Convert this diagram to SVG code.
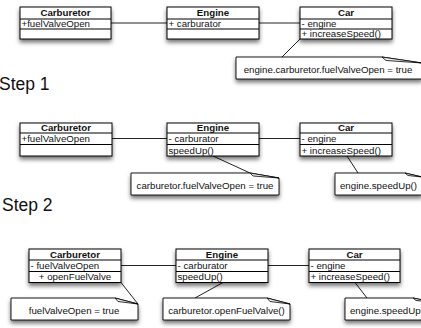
<svg xmlns="http://www.w3.org/2000/svg" width="421" height="328" viewBox="0 0 421 328">
<defs>
<filter id="sh" x="-20%" y="-30%" width="140%" height="180%">
<feDropShadow dx="0" dy="3" stdDeviation="2" flood-color="#000" flood-opacity="0.55"/>
</filter>
</defs>
<style>
.box{fill:#fff;stroke:#000;stroke-width:1}
.sep{stroke:#000;stroke-width:1}
.note{fill:#fff;stroke:#000;stroke-width:0.9}
.flap{fill:#eee;stroke:#000;stroke-width:0.8}
.t{font-family:"Liberation Sans",Arial,sans-serif;font-size:9.7px;fill:#111}
.h{font-weight:bold;text-anchor:middle}
.c{text-anchor:middle}
.step{font-family:"Liberation Sans",Arial,sans-serif;font-size:17.5px;fill:#111}
.con{stroke:#222;stroke-width:1;fill:none}
</style>
<rect width="421" height="328" fill="#fff"/>

<g id="connectors">
<line class="con" x1="111" y1="23" x2="167" y2="23"/>
<line class="con" x1="259" y1="23" x2="300" y2="23"/>
<line class="con" x1="300" y1="39" x2="282" y2="57"/>
<line class="con" x1="112" y1="138.5" x2="167" y2="138.5"/>
<line class="con" x1="259" y1="138.5" x2="300" y2="138.5"/>
<line class="con" x1="213" y1="156" x2="250" y2="173"/>
<line class="con" x1="347" y1="156" x2="358" y2="173"/>
<line class="con" x1="121" y1="265.5" x2="176" y2="265.5"/>
<line class="con" x1="268" y1="265.5" x2="309" y2="265.5"/>
<line class="con" x1="121" y1="282.5" x2="138" y2="304"/>
<line class="con" x1="223" y1="282.5" x2="195" y2="298"/>
<line class="con" x1="355" y1="282.5" x2="367" y2="298"/>
</g>

<!-- Step 1 -->
<g id="carburetor1">
<rect class="box" x="20" y="7" width="91" height="32" filter="url(#sh)"/>
<line class="sep" x1="20" y1="19" x2="111" y2="19"/>
<line class="sep" x1="20" y1="29" x2="111" y2="29"/>
<text class="t h" x="65.5" y="16.4">Carburetor</text>
<text class="t" x="21.5" y="27.4">+fuelValveOpen</text>
</g>
<g id="engine1">
<rect class="box" x="167" y="7" width="92" height="32" filter="url(#sh)"/>
<line class="sep" x1="167" y1="19" x2="259" y2="19"/>
<line class="sep" x1="167" y1="29" x2="259" y2="29"/>
<text class="t h" x="213" y="16.4">Engine</text>
<text class="t" x="168.5" y="27.4">+ carburator</text>
</g>
<g id="car1">
<rect class="box" x="300" y="7" width="92" height="32" filter="url(#sh)"/>
<line class="sep" x1="300" y1="19" x2="392" y2="19"/>
<line class="sep" x1="300" y1="29" x2="392" y2="29"/>
<text class="t h" x="346" y="16.4">Car</text>
<text class="t" x="301.5" y="27.4">- engine</text>
<text class="t" x="301.5" y="37.4">+ increaseSpeed()</text>
</g>
<g id="note1">
<path class="note" d="M236,57 H382 L422,63 V79 H236 Z" filter="url(#sh)"/>
<path class="flap" d="M382,57 L386,60.5 L422,63 Z"/>
<text class="t c" x="328" y="72.5">engine.carburetor.fuelValveOpen = true</text>
</g>
<text id="step1" class="step" x="-1" y="90">Step 1</text>

<!-- Step 2 -->
<g id="carburetor2">
<rect class="box" x="20" y="123" width="92" height="33" filter="url(#sh)"/>
<line class="sep" x1="20" y1="133" x2="112" y2="133"/>
<line class="sep" x1="20" y1="144.5" x2="112" y2="144.5"/>
<text class="t h" x="66" y="131.4">Carburetor</text>
<text class="t" x="21.5" y="142.1">+fuelValveOpen</text>
</g>
<g id="engine2">
<rect class="box" x="167" y="123" width="92" height="33" filter="url(#sh)"/>
<line class="sep" x1="167" y1="133" x2="259" y2="133"/>
<line class="sep" x1="167" y1="144.5" x2="259" y2="144.5"/>
<text class="t h" x="213" y="131.4">Engine</text>
<text class="t" x="168.5" y="142.1">- carburator</text>
<text class="t" x="168.5" y="153.6">speedUp()</text>
</g>
<g id="car2">
<rect class="box" x="300" y="123" width="92" height="33" filter="url(#sh)"/>
<line class="sep" x1="300" y1="133" x2="392" y2="133"/>
<line class="sep" x1="300" y1="144.5" x2="392" y2="144.5"/>
<text class="t h" x="346" y="131.4">Car</text>
<text class="t" x="301.5" y="142.1">- engine</text>
<text class="t" x="301.5" y="153.6">+ increaseSpeed()</text>
</g>
<g id="note2a">
<path class="note" d="M131,173 H250 L279,178 V195 H131 Z" filter="url(#sh)"/>
<path class="flap" d="M250,173 L253,176 L279,178 Z"/>
<text class="t c" x="205" y="188.5">carburetor.fuelValveOpen = true</text>
</g>
<g id="note2b">
<path class="note" d="M335,173 H405 L422,177 V195 H335 Z" filter="url(#sh)"/>
<path class="flap" d="M405,173 L408,175.5 L422,177 Z"/>
<text class="t c" x="378.5" y="188.5">engine.speedUp()</text>
</g>
<text id="step2" class="step" x="2" y="211">Step 2</text>

<!-- Step 3 -->
<g id="carburetor3">
<rect class="box" x="29" y="249" width="92" height="33.5" filter="url(#sh)"/>
<line class="sep" x1="29" y1="260" x2="121" y2="260"/>
<line class="sep" x1="29" y1="271.5" x2="121" y2="271.5"/>
<text class="t h" x="75" y="257.9">Carburetor</text>
<text class="t" x="30.5" y="269.1">- fuelValveOpen</text>
<text class="t c" x="75" y="280.4">+ openFuelValve</text>
</g>
<g id="engine3">
<rect class="box" x="176" y="249" width="92" height="33.5" filter="url(#sh)"/>
<line class="sep" x1="176" y1="260" x2="268" y2="260"/>
<line class="sep" x1="176" y1="271.5" x2="268" y2="271.5"/>
<text class="t h" x="222" y="257.9">Engine</text>
<text class="t" x="177.5" y="269.1">- carburator</text>
<text class="t" x="177.5" y="280.4">speedUp()</text>
</g>
<g id="car3">
<rect class="box" x="309" y="249" width="91" height="33.5" filter="url(#sh)"/>
<line class="sep" x1="309" y1="260" x2="400" y2="260"/>
<line class="sep" x1="309" y1="271.5" x2="400" y2="271.5"/>
<text class="t h" x="354.5" y="257.9">Car</text>
<text class="t" x="310.5" y="269.1">- engine</text>
<text class="t" x="310.5" y="280.4">+ increaseSpeed()</text>
</g>
<g id="note3a">
<path class="note" d="M11,298 H115 L138,304 V320 H11 Z" filter="url(#sh)"/>
<path class="flap" d="M115,298 L118,301.5 L138,304 Z"/>
<text class="t c" x="74" y="313.5">fuelValveOpen = true</text>
</g>
<g id="note3b">
<path class="note" d="M163,298 H267 L290,304 V320 H163 Z" filter="url(#sh)"/>
<path class="flap" d="M267,298 L270,301.5 L290,304 Z"/>
<text class="t c" x="226.5" y="313.5">carburetor.openFuelValve()</text>
</g>
<g id="note3c">
<path class="note" d="M345,298 H413 L432,302 V320 H345 Z" filter="url(#sh)"/>
<path class="flap" d="M413,298 L416,300.5 L432,302 Z"/>
<text class="t c" x="388.5" y="313.5">engine.speedUp()</text>
</g>
</svg>
